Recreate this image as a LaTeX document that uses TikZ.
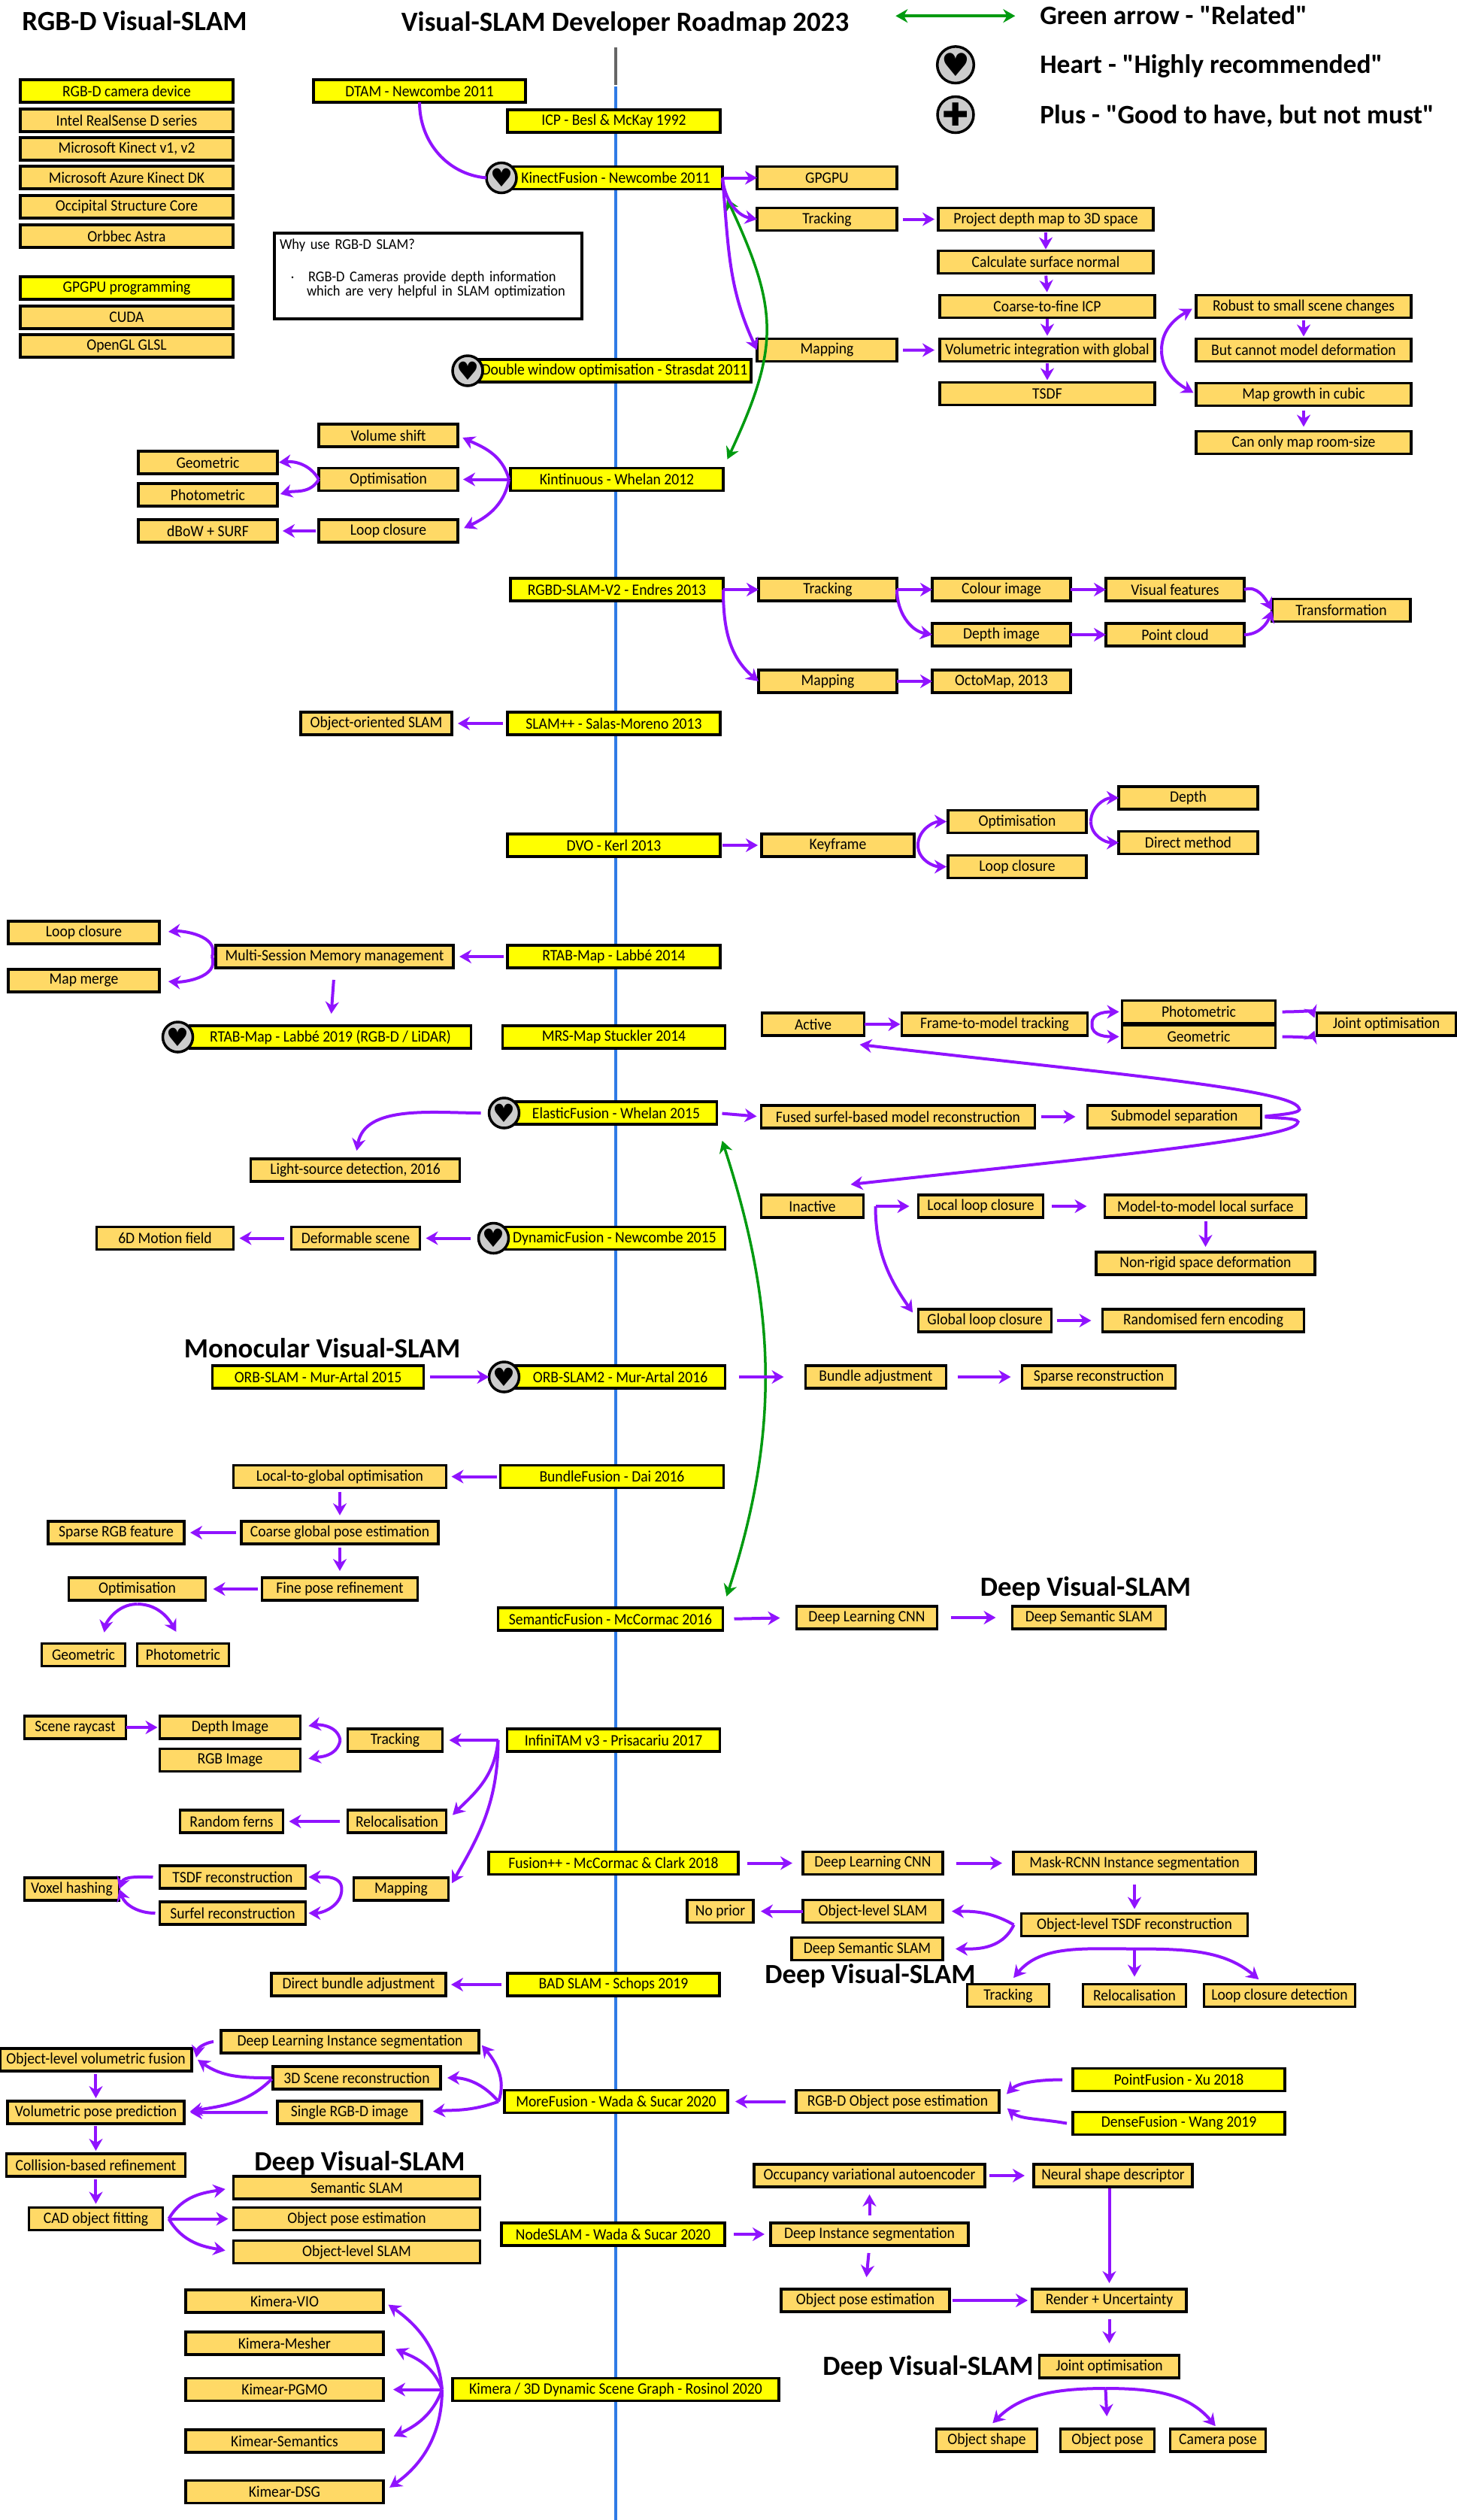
\documentclass[tikz,border=0pt]{standalone}
\usepackage{fontspec}
\setmainfont[FakeStretch=.93, Ligatures=TeXOff]{Carlito}
\newfontfamily\headfont[Ligatures=TeXOff]{Carlito}
\newfontfamily\symbolfont{DejaVu Sans}
\usetikzlibrary{arrows.meta, positioning}
\definecolor{roadyellow}{HTML}{FFFF00}
\definecolor{taskorange}{HTML}{FFD966}
\definecolor{selpurple}{HTML}{9013FE}
\definecolor{relgreen}{HTML}{009A10}
\definecolor{axisblue}{HTML}{2F7BE6}
\tikzset{%
	box/.style={draw, rectangle, line width=.035cm, minimum height=.3cm, inner sep=0mm, outer sep=0mm,%
		font=\fontsize{6}{6.9}\selectfont},
	road/.style={box, fill=roadyellow, minimum width=2.83cm},
	task/.style={box, fill=taskorange, minimum width=1.86cm},
	badge/.style={draw, circle, line width=.035cm, minimum size=.4cm, inner sep=0mm, outer sep=0mm, fill=black!20,%
		font=\symbolfont\fontsize{9.5}{9.5}\selectfont},
	bigbadge/.style={badge, minimum size=.48cm, font=\symbolfont\fontsize{12}{12}\selectfont},
	heading/.style={inner sep=0mm, outer sep=0mm, text height=.3cm, text depth=.08cm,%
		font=\headfont\fontsize{10.5}{11}\selectfont\bfseries},
	legend/.style={heading, font=\headfont\fontsize{10.1}{11}\selectfont\bfseries},
	note/.style={box, fill=white, minimum height=1.14cm, text width=3.95cm, inner xsep=.07cm, align=left,%
		font=\fontsize{5.65}{5.5}\selectfont},
	sel/.style={-{Stealth[length=1.6mm,width=1.8mm]}, line width=.04cm, color=selpurple},
	rel/.style={{Stealth[length=1.6mm,width=1.8mm]}-{Stealth[length=1.6mm,width=1.8mm]},%
		line width=.035cm, color=relgreen},
	gap/.style 2 args={shorten <=#1cm, shorten >=#2cm}
}
\begin{document}
\begin{tikzpicture}
	\useasboundingbox (0,0) rectangle (19.38,-33.51);
	\coordinate (axis-top) at (8.19,-.63);
	\coordinate (axis-mid) at (8.19,-1.13);
	\coordinate (axis-start) at (8.19,-1.15);
	\coordinate (axis-end) at (8.19,-33.51);
	\draw [line width=.04cm, black!60] (axis-top) to (axis-mid);
	\draw [line width=.045cm, axisblue] (axis-start) to (axis-end);

	\node[road] (icp) at (8.165,-1.61) {ICP - Besl \& McKay 1992};
	\node[road, minimum width=2.82cm] (dtam) [above=.1 of icp, xshift=-2.585cm] {DTAM - Newcombe 2011};
	\node[road, minimum width=2.84cm] (kinect) [below=.455 of icp, xshift=.025cm] {KinectFusion - Newcombe 2011};
	\node[road, minimum width=3.63cm] (double) [below=2.265 of kinect, xshift=-.015cm] {Double window optimisation - Strasdat 2011};
	\node[road] (kintinuous) [below=1.145 of double, xshift=.03cm] {Kintinuous - Whelan 2012};
	\node[road] (rgbdslam) [below=1.165 of kintinuous] {RGBD-SLAM-V2 - Endres 2013};
	\node[road] (slampp) [below=1.48 of rgbdslam, xshift=-.04cm] {SLAM++ - Salas-Moreno 2013};
	\node[road] (dvo) [below=1.32 of slampp] {DVO - Kerl 2013};
	\node[road] (rtabmap) [below=1.18 of dvo] {RTAB-Map - Labbé 2014};
	\node[road, minimum width=2.96cm] (mrsmap) [below=.77 of rtabmap] {MRS-Map Stuckler 2014};
	\node[road, minimum width=2.68cm] (elastic) [below=.71 of mrsmap, xshift=.03cm] {ElasticFusion - Whelan 2015};
	\node[road, minimum width=2.94cm] (dynamic) [below=1.365 of elastic, xshift=-.02cm] {DynamicFusion - Newcombe 2015};
	\node[road, minimum width=2.79cm] (orb2) [below=1.545 of dynamic, xshift=.075cm] {ORB-SLAM2 - Mur-Artal 2016};
	\node[road, minimum width=2.97cm] (bundlefusion) [below=1.025 of orb2, xshift=-.11cm] {BundleFusion - Dai 2016};
	\node[road, minimum width=2.99cm] (semanticf) [below=1.595 of bundlefusion, xshift=-.02cm] {SemanticFusion - McCormac 2016};
	\node[road] (infinitam) [below=1.31 of semanticf, xshift=.04cm] {InfiniTAM v3 - Prisacariu 2017};
	\node[road, minimum width=3.32cm] (fusionpp) [below=1.335 of infinitam] {Fusion++ - McCormac \& Clark 2018};
	\node[road, minimum width=2.82cm] (badslam) [below=1.315 of fusionpp] {BAD SLAM - Schops 2019};
	\node[road, minimum width=2.97cm] (morefusion) [below=1.255 of badslam, xshift=.035cm] {MoreFusion - Wada \& Sucar 2020};
	\node[road, minimum width=2.97cm] (nodeslam) [below=1.465 of morefusion, xshift=-.04cm] {NodeSLAM - Wada \& Sucar 2020};
	\node[road, minimum width=4.34cm] (kimera) [below=1.765 of nodeslam, xshift=.035cm] {Kimera / 3D Dynamic Scene Graph - Rosinol 2020};

	\node[road, minimum width=2.83cm] (camera) [left=1.07 of dtam] {RGB-D camera device};
	\node[task, minimum width=2.83cm] (realsense) [below=.09 of camera] {Intel RealSense D series};
	\node[task, minimum width=2.83cm] (mskinect) [below=.08 of realsense] {Microsoft Kinect v1, v2};
	\node[task, minimum width=2.83cm] (azure) [below=.08 of mskinect] {Microsoft Azure Kinect DK};
	\node[task, minimum width=2.83cm] (occipital) [below=.09 of azure] {Occipital Structure Core};
	\node[task, minimum width=2.83cm] (orbbec) [below=.09 of occipital] {Orbbec Astra};
	\node[road, minimum width=2.83cm] (gpgpu-prog) [below=.39 of orbbec] {GPGPU programming};
	\node[task, minimum width=2.83cm] (cuda) [below=.09 of gpgpu-prog] {CUDA};
	\node[task, minimum width=2.83cm] (glsl) [below=.08 of cuda] {OpenGL GLSL};
	\node[note] (why) [below=1.74 of dtam, xshift=.115cm] {Why use RGB-D SLAM?\\[2.3mm]
		\hspace*{.13cm}$\cdot$\hspace*{.17cm}RGB-D Cameras provide depth information\\
		\hspace*{.36cm}which are very helpful in SLAM optimization\\[.3mm]\mbox{}};

	\node[heading] (roadmap) [above=.57 of dtam, xshift=2.735cm] {Visual-SLAM Developer Roadmap 2023};
	\node[heading] (rgbd-title) [above=.58 of camera, xshift=.105cm] {RGB-D Visual-SLAM};

	\node[badge] (kinect-heart) [left=-.1 of kinect] {♥};
	\node[badge] (double-heart) [left=-.06 of double] {♥};
	\node[badge] (elastic-heart) [left=-.05 of elastic] {♥};
	\node[badge] (dynamic-heart) [left=-.06 of dynamic] {♥};
	\node[badge] (orb2-heart) [left=-.05 of orb2] {♥};

	\node[task] (kinect-gpu) [right=.46 of kinect] {GPGPU};
	\node[task] (kinect-track) [below=.25 of kinect-gpu] {Tracking};
	\node[task] (kinect-map) [below=1.44 of kinect-track] {Mapping};
	\node[task, minimum width=2.86cm] (project) [right=.55 of kinect-track] {Project depth map to 3D space};
	\node[task, minimum width=2.86cm] (normal) [below=.27 of project] {Calculate surface normal};
	\node[task, minimum width=2.86cm] (fine-icp) [below=.29 of normal, xshift=.02cm] {Coarse-to-fine ICP};
	\node[task, minimum width=2.86cm] (volume) [below=.28 of fine-icp] {Volumetric integration with global};
	\node[task, minimum width=2.86cm] (tsdf) [below=.28 of volume] {TSDF};
	\node[task, minimum width=2.86cm] (robust) [right=.55 of fine-icp] {Robust to small scene changes};
	\node[task, minimum width=2.86cm] (nodeform) [below=.28 of robust] {But cannot model deformation};
	\node[task, minimum width=2.86cm] (cubic) [below=.29 of nodeform] {Map growth in cubic};
	\node[task, minimum width=2.86cm] (roomsize) [below=.34 of cubic] {Can only map room-size};

	\node[bigbadge] (legend-heart) [above=1.66 of project, xshift=-1.2cm] {♥};
	\node[bigbadge] (legend-plus) [below=.18 of legend-heart] {✚};
	\node[legend] (legend-hearttext) [right=.88 of legend-heart] {Heart - "Highly recommended"};
	\node[legend] (legend-plustext) [below=.29 of legend-hearttext.south west, anchor=north west] {Plus - "Good to have, but not must"};
	\node[legend] (legend-reltext) [above=.27 of legend-hearttext.north west, anchor=south west] {Green arrow - "Related"};
	\coordinate[left=.33 of legend-reltext] (legend-relend);
	\coordinate[left=1.59 of legend-relend] (legend-relstart);

	\node[task, minimum width=1.85cm] (kin-optim) [left=.7 of kintinuous] {Optimisation};
	\node[task, minimum width=1.85cm] (kin-shift) [above=.285 of kin-optim] {Volume shift};
	\node[task, minimum width=1.85cm] (kin-loop) [below=.385 of kin-optim] {Loop closure};
	\node[task, minimum width=1.85cm] (kin-dbow) [left=.55 of kin-loop] {dBoW + SURF};
	\node[task, minimum width=1.85cm] (kin-photo) [above=.18 of kin-dbow] {Photometric};
	\node[task, minimum width=1.85cm] (kin-geo) [above=.13 of kin-photo] {Geometric};

	\node[task, minimum width=1.84cm] (rgbd-track) [right=.47 of rgbdslam] {Tracking};
	\node[task, minimum width=1.84cm] (rgbd-colour) [right=.47 of rgbd-track] {Colour image};
	\node[task, minimum width=1.84cm] (rgbd-visual) [right=.47 of rgbd-colour] {Visual features};
	\node[task, minimum width=1.84cm] (rgbd-depth) [below=.3 of rgbd-colour] {Depth image};
	\node[task, minimum width=1.84cm] (rgbd-cloud) [right=.47 of rgbd-depth] {Point cloud};
	\node[task, minimum width=1.84cm] (rgbd-trans) [right=.37 of rgbd-visual, yshift=-.275cm] {Transformation};
	\node[task, minimum width=1.84cm] (rgbd-map) [below=.92 of rgbd-track] {Mapping};
	\node[task, minimum width=1.84cm] (rgbd-octo) [right=.47 of rgbd-map] {OctoMap, 2013};

	\node[task, minimum width=2.01cm] (slam-object) [left=.74 of slampp] {Object-oriented SLAM};

	\node[task, minimum width=2.03cm] (dvo-key) [right=.55 of dvo] {Keyframe};
	\node[task, minimum width=1.84cm] (dvo-optim) [right=.45 of dvo-key, yshift=.315cm] {Optimisation};
	\node[task, minimum width=1.84cm] (dvo-loop) [below=.3 of dvo-optim] {Loop closure};
	\node[task, minimum width=1.85cm] (dvo-depth) [right=.43 of dvo-optim, yshift=.315cm] {Depth};
	\node[task, minimum width=1.85cm] (dvo-direct) [below=.295 of dvo-depth] {Direct method};

	\node[task, minimum width=3.16cm] (rtab-multi) [left=.72 of rtabmap] {Multi-Session Memory management};
	\node[task, minimum width=2.01cm] (rtab-loop) [left=.75 of rtab-multi, yshift=.32cm] {Loop closure};
	\node[task, minimum width=2.01cm] (rtab-merge) [below=.34 of rtab-loop] {Map merge};
	\node[road, minimum width=3.74cm] (rtab19) [left=.42 of mrsmap] {RTAB-Map - Labbé 2019 (RGB-D / LiDAR)};
	\node[badge] (rtab19-heart) [left=-.04 of rtab19] {♥};

	\node[task, minimum width=3.64cm] (fused) [right=.59 of elastic, yshift=-.05cm] {Fused surfel-based model reconstruction};
	\node[task, minimum width=2.31cm] (submodel) [right=.7 of fused] {Submodel separation};
	\node[task, minimum width=2.78cm] (light) [left=.74 of elastic, yshift=-.76cm] {Light-source detection, 2016};
	\node[task, minimum width=1.36cm] (active) [above=.93 of fused, xshift=-1.13cm] {Active};
	\node[task, minimum width=2.47cm] (frame) [right=.5 of active] {Frame-to-model tracking};
	\node[task, minimum width=2.04cm] (ef-photo) [right=.46 of frame, yshift=.165cm] {Photometric};
	\node[task, minimum width=2.04cm] (ef-geo) [below=.03 of ef-photo] {Geometric};
	\node[task, minimum width=1.85cm] (ef-joint) [right=.55 of ef-photo, yshift=-.165cm] {Joint optimisation};
	\node[task, minimum width=1.36cm] (inactive) [below=.89 of fused, xshift=-1.14cm] {Inactive};
	\node[task, minimum width=1.66cm] (ef-local) [right=.73 of inactive] {Local loop closure};
	\node[task, minimum width=2.68cm] (ef-surface) [right=.82 of ef-local] {Model-to-model local surface};
	\node[task, minimum width=2.91cm] (ef-rigid) [below=.46 of ef-surface] {Non-rigid space deformation};
	\node[task, minimum width=1.77cm] (ef-global) [below=1.22 of ef-local, xshift=.055cm] {Global loop closure};
	\node[task, minimum width=2.68cm] (ef-fern) [right=.68 of ef-global] {Randomised fern encoding};

	\node[task, minimum width=1.71cm] (dyn-scene) [left=1.12 of dynamic] {Deformable scene};
	\node[task, minimum width=1.82cm] (dyn-motion) [left=.77 of dyn-scene] {6D Motion field};

	\node[road, minimum width=2.81cm] (orb1) [left=1.22 of orb2] {ORB-SLAM - Mur-Artal 2015};
	\node[heading] (mono-title) [above=.03 of orb1, xshift=.055cm] {Monocular Visual-SLAM};
	\node[task, minimum width=1.87cm] (orb-bundle) [right=1.07 of orb2] {Bundle adjustment};
	\node[task, minimum width=2.04cm] (orb-sparse) [right=1.01 of orb-bundle] {Sparse reconstruction};

	\node[task, minimum width=2.83cm] (bf-local) [left=.72 of bundlefusion] {Local-to-global optimisation};
	\node[task, minimum width=2.62cm] (bf-coarse) [below=.445 of bf-local] {Coarse global pose estimation};
	\node[task, minimum width=1.81cm] (bf-rgb) [left=.76 of bf-coarse] {Sparse RGB feature};
	\node[task, minimum width=2.07cm] (bf-fine) [below=.45 of bf-coarse] {Fine pose refinement};
	\node[task, minimum width=1.82cm] (bf-optim) [left=.75 of bf-fine] {Optimisation};
	\node[task, minimum width=1.11cm] (bf-geo) [below=.575 of bf-optim, xshift=-.715cm] {Geometric};
	\node[task, minimum width=1.22cm] (bf-photo) [right=.16 of bf-geo] {Photometric};

	\node[task, minimum width=1.87cm] (sf-cnn) [right=.98 of semanticf, yshift=.02cm] {Deep Learning CNN};
	\node[task, minimum width=2.04cm] (sf-deep) [right=1 of sf-cnn] {Deep Semantic SLAM};
	\node[heading] (deep-title) [above=.06 of sf-deep, xshift=-.045cm] {Deep Visual-SLAM};

	\node[task, minimum width=1.26cm] (it-track) [left=.86 of infinitam] {Tracking};
	\node[task, minimum width=1.87cm] (it-depth) [left=.63 of it-track, yshift=.17cm] {Depth Image};
	\node[task, minimum width=1.87cm] (it-rgb) [below=.135 of it-depth] {RGB Image};
	\node[task, minimum width=1.35cm] (it-ray) [left=.45 of it-depth] {Scene raycast};
	\node[task, minimum width=1.31cm] (it-reloc) [below=.78 of it-track, xshift=.025cm] {Relocalisation};
	\node[task, minimum width=1.37cm] (it-ferns) [left=.86 of it-reloc] {Random ferns};
	\node[task, minimum width=1.26cm] (it-map) [below=.6 of it-reloc, xshift=.055cm] {Mapping};
	\node[task, minimum width=1.94cm] (it-tsdf) [left=.64 of it-map, yshift=.16cm] {TSDF reconstruction};
	\node[task, minimum width=1.94cm] (it-surfel) [below=.18 of it-tsdf] {Surfel reconstruction};
	\node[task, minimum width=1.26cm] (it-voxel) [left=.54 of it-tsdf, yshift=-.16cm] {Voxel hashing};

	\node[task] (fp-cnn) [right=.86 of fusionpp] {Deep Learning CNN};
	\node[task, minimum width=3.22cm] (fp-mask) [right=.94 of fp-cnn] {Mask-RCNN Instance segmentation};
	\node[task, minimum width=3.01cm] (fp-tsdf) [below=.52 of fp-mask] {Object-level TSDF reconstruction};
	\node[task] (fp-object) [below=.34 of fp-cnn] {Object-level SLAM};
	\node[task, minimum width=.88cm] (fp-prior) [left=.66 of fp-object] {No prior};
	\node[task, minimum width=2.01cm] (fp-deep) [below=.2 of fp-object, xshift=-.075cm] {Deep Semantic SLAM};
	\node[heading] (deep-title2) [below=.01 of fp-deep, xshift=.04cm] {Deep Visual-SLAM};
	\node[task, minimum width=1.37cm] (fp-reloc) [below=.64 of fp-tsdf] {Relocalisation};
	\node[task, minimum width=1.09cm] (fp-track) [left=.45 of fp-reloc] {Tracking};
	\node[task, minimum width=2.01cm] (fp-loop) [right=.24 of fp-reloc] {Loop closure detection};

	\node[task, minimum width=2.32cm] (bad-direct) [left=.82 of badslam] {Direct bundle adjustment};

	\node[task, minimum width=2.23cm] (mf-scene) [left=.85 of morefusion, yshift=.315cm] {3D Scene reconstruction};
	\node[task, minimum width=3.43cm] (mf-inst) [above=.18 of mf-scene, xshift=-.09cm] {Deep Learning Instance segmentation};
	\node[task, minimum width=1.92cm] (mf-single) [below=.16 of mf-scene, xshift=-.095cm] {Single RGB-D image};
	\node[task, minimum width=2.55cm] (mf-fusion) [left=.39 of mf-inst, yshift=-.24cm] {Object-level volumetric fusion};
	\node[task, minimum width=2.35cm] (mf-pose) [below=.4 of mf-fusion] {Volumetric pose prediction};
	\node[task, minimum width=2.38cm] (mf-coll) [below=.4 of mf-pose] {Collision-based refinement};
	\node[task, minimum width=1.78cm] (mf-cad) [below=.415 of mf-coll] {CAD object fitting};
	\node[task, minimum width=3.28cm] (mf-objest) [right=.94 of mf-cad] {Object pose estimation};
	\node[task, minimum width=3.28cm] (mf-sem) [above=.115 of mf-objest] {Semantic SLAM};
	\node[task, minimum width=3.28cm] (mf-level) [below=.14 of mf-objest] {Object-level SLAM};
	\node[heading] (deep-title3) [above=0 of mf-sem, xshift=.04cm] {Deep Visual-SLAM};
	\node[task, minimum width=2.7cm] (mf-rgbd) [right=.91 of morefusion] {RGB-D Object pose estimation};
	\node[road, minimum width=2.82cm] (pointf) [right=.98 of mf-rgbd, yshift=.29cm] {PointFusion - Xu 2018};
	\node[road, minimum width=2.82cm] (densef) [below=.28 of pointf] {DenseFusion - Wang 2019};

	\node[task, minimum width=2.63cm] (ns-inst) [right=.61 of nodeslam] {Deep Instance segmentation};
	\node[task, minimum width=3.07cm] (ns-occ) [above=.48 of ns-inst] {Occupancy variational autoencoder};
	\node[task, minimum width=2.11cm] (ns-neural) [right=.65 of ns-occ] {Neural shape descriptor};
	\node[task, minimum width=2.24cm] (ns-pose) [below=.58 of ns-inst, xshift=-.055cm] {Object pose estimation};
	\node[task, minimum width=2.05cm] (ns-render) [right=1.1 of ns-pose] {Render + Uncertainty};
	\node[task] (ns-joint) [below=.58 of ns-render] {Joint optimisation};
	\node[heading] (deep-title4) [left=.08 of ns-joint] {Deep Visual-SLAM};
	\node[task, minimum width=1.25cm] (ns-objpose) [below=.68 of ns-joint, xshift=-.025cm] {Object pose};
	\node[task, minimum width=1.34cm] (ns-shape) [left=.31 of ns-objpose] {Object shape};
	\node[task, minimum width=1.27cm] (ns-cam) [right=.21 of ns-objpose] {Camera pose};

	\node[task, minimum width=2.63cm] (ki-pgmo) [left=.92 of kimera] {Kimear-PGMO};
	\node[task, minimum width=2.63cm] (ki-mesher) [above=.315 of ki-pgmo] {Kimera-Mesher};
	\node[task, minimum width=2.63cm] (ki-vio) [above=.26 of ki-mesher] {Kimera-VIO};
	\node[task, minimum width=2.63cm] (ki-sem) [below=.385 of ki-pgmo] {Kimear-Semantics};
	\node[task, minimum width=2.63cm] (ki-dsg) [below=.375 of ki-sem] {Kimear-DSG};

	\draw [rel] (legend-relstart) to (legend-relend);
	\draw [rel, gap={.14}{.13}, out=-65, in=65, looseness=1.22] (kinect.south east) to (kintinuous.north east);
	\draw [rel, gap={.23}{.16}, out=-72, in=72] (elastic.south east) to (semanticf.north east);

	\draw [line width=.04cm, color=selpurple, out=-90, in=175] (dtam.south) to (kinect-heart.west);
	\draw [sel] (kinect.east) to (kinect-gpu.west);
	\draw [sel, out=-85, in=170] (kinect.east) to (kinect-track.west);
	\draw [sel, out=-85, in=115] (kinect.east) to (kinect-map.west);
	\draw [sel, gap={.08}{.05}] (kinect-track.east) to (project.west);
	\draw [sel, gap={.08}{.07}] (kinect-map.east) to (volume.west);
	\draw [sel, gap={.02}{.02}] (project.south) to (normal.north);
	\draw [sel, gap={.03}{.04}] (normal.south) to (fine-icp.north);
	\draw [sel, gap={.01}{.04}] (fine-icp.south) to (volume.north);
	\draw [sel, gap={.02}{.03}] (volume.south) to (tsdf.north);
	\draw [sel, gap={0}{.06}, out=90, in=-150] ([xshift=.09cm]volume.east) to (robust.west);
	\draw [sel, gap={0}{.04}, out=-90, in=150] ([xshift=.09cm]volume.east) to (cubic.west);
	\draw [sel, gap={.03}{.03}] (robust.south) to (nodeform.north);
	\draw [sel, gap={.06}{.06}] (cubic.south) to (roomsize.north);

	\draw [sel, gap={0}{.07}, out=105, in=-25] ([xshift=-.02cm]kintinuous.west) to (kin-shift.east);
	\draw [sel, gap={.02}{.07}] (kintinuous.west) to (kin-optim.east);
	\draw [sel, gap={0}{.09}, out=-100, in=25] ([xshift=-.02cm]kintinuous.west) to (kin-loop.east);
	\draw [sel, gap={0}{.02}, out=120, in=5] (kin-optim.west) to (kin-geo.east);
	\draw [sel, gap={0}{.04}, out=-120, in=15] (kin-optim.west) to (kin-photo.east);
	\draw [sel, gap={.04}{.07}] (kin-loop.west) to (kin-dbow.east);

	\draw [sel] (rgbdslam.east) to (rgbd-track.west);
	\draw [sel, out=-90, in=140] (rgbdslam.east) to (rgbd-map.west);
	\draw [sel] (rgbd-track.east) to (rgbd-colour.west);
	\draw [sel, out=-90, in=170] (rgbd-track.east) to (rgbd-depth.west);
	\draw [sel] (rgbd-colour.east) to (rgbd-visual.west);
	\draw [sel] (rgbd-depth.east) to (rgbd-cloud.west);
	\draw [sel] (rgbd-map.east) to (rgbd-octo.west);
	\draw [sel, out=20, in=120] (rgbd-visual.east) to (rgbd-trans.west);
	\draw [sel, out=0, in=-110] (rgbd-cloud.east) to (rgbd-trans.west);

	\draw [sel, gap={.06}{.08}] (slampp.west) to (slam-object.east);

	\draw [sel, gap={.03}{.05}] (dvo.east) to (dvo-key.west);
	\draw [sel, gap={0}{.02}, out=90, in=180] ([xshift=.05cm]dvo-key.east) to (dvo-optim.west);
	\draw [sel, gap={0}{.02}, out=-90, in=180] ([xshift=.05cm]dvo-key.east) to (dvo-loop.west);
	\draw [sel, out=90, in=180] ([xshift=.06cm]dvo-optim.east) to (dvo-depth.west);
	\draw [sel, out=-90, in=180] ([xshift=.06cm]dvo-optim.east) to (dvo-direct.west);

	\draw [sel, gap={.05}{.08}] (rtabmap.west) to (rtab-multi.east);
	\draw [sel, gap={0}{.12}, out=70, in=5] ([xshift=-.05cm]rtab-multi.west) to (rtab-loop.east);
	\draw [sel, gap={0}{.12}, out=-70, in=-5] ([xshift=-.05cm]rtab-multi.west) to (rtab-merge.east);
	\draw [sel, gap={.16}{.16}] (rtab-multi.south) to (rtab19.north);

	\draw [sel, out=180, in=80, gap={.11}{.11}] (elastic-heart.west) to (light.north);
	\draw [sel, gap={.07}{.06}] (elastic.east) to (fused.west);
	\draw [sel, gap={.08}{.16}] (fused.east) to (submodel.west);
	\draw [sel, gap={.05}{0}] (submodel.east) .. controls +(.27,.03) and +(.07,-.07) .. ++(.5,.12) .. controls +(-.13,.26) and +(3.06,-.36) .. ([shift={(-.06,-.12)}]active.south east);
	\draw [sel, gap={.05}{0}] (submodel.east) .. controls +(.27,-.02) and +(.07,.07) .. ++(.48,-.09) .. controls +(-.11,-.21) and +(3.18,.35) .. ([shift={(-.17,.14)}]inactive.north east);
	\draw [sel, gap={0}{.02}] (active.east) to (frame.west);
	\draw [sel, gap={0}{.04}, out=95, in=180] ([xshift=.06cm]frame.east) to (ef-photo.west);
	\draw [sel, gap={0}{.04}, out=-95, in=180] ([xshift=.06cm]frame.east) to (ef-geo.west);
	\draw [sel, gap={0}{.09}, out=0, in=110] ([xshift=.09cm]ef-photo.east) to (ef-joint.west);
	\draw [sel, gap={0}{.09}, out=0, in=-110] ([xshift=.09cm]ef-geo.east) to (ef-joint.west);
	\draw [sel, gap={.16}{.12}] (inactive.east) to (ef-local.west);
	\draw [sel, gap={0}{.13}, out=-90, in=125] ([xshift=.16cm]inactive.east) to (ef-global.west);
	\draw [sel, gap={.11}{.24}] (ef-local.east) to (ef-surface.west);
	\draw [sel, gap={.05}{.07}] (ef-surface.south) to (ef-rigid.north);
	\draw [sel, gap={.07}{.15}] (ef-global.east) to (ef-fern.west);

	\draw [sel, gap={.11}{.08}] (dynamic-heart.west) to (dyn-scene.east);
	\draw [sel, gap={.1}{.08}] (dyn-scene.west) to (dyn-motion.east);

	\draw [sel, gap={.08}{0}] (orb1.east) to (orb2-heart.west);
	\draw [sel, gap={.18}{.29}] (orb2.east) to (orb-bundle.west);
	\draw [sel, gap={.15}{.15}] (orb-bundle.east) to (orb-sparse.west);

	\draw [sel, gap={.05}{.07}] (bundlefusion.west) to (bf-local.east);
	\draw [sel, gap={.05}{.08}] (bf-local.south) to (bf-coarse.north);
	\draw [sel, gap={.07}{.08}] (bf-coarse.west) to (bf-rgb.east);
	\draw [sel, gap={.05}{.09}] (bf-coarse.south) to (bf-fine.north);
	\draw [sel, gap={.06}{.1}] (bf-fine.west) to (bf-optim.east);
	\draw [sel, gap={0}{.15}, out=180, in=80] ([yshift=-.05cm]bf-optim.south) to ([xshift=.25cm]bf-geo.north);
	\draw [sel, gap={0}{.18}, out=0, in=120] ([yshift=-.05cm]bf-optim.south) to (bf-photo.north);

	\draw [sel, gap={.15}{.22}] (semanticf.east) to (sf-cnn.west);
	\draw [sel, gap={.18}{.22}] (sf-cnn.east) to (sf-deep.west);

	\draw [sel, gap={.12}{.09}] (infinitam.west) to (it-track.east);
	\draw [sel, gap={0}{.12}, out=-95, in=45] ([xshift=-.12cm]infinitam.west) to (it-reloc.east);
	\draw [sel, gap={0}{.09}, out=-90, in=60] ([xshift=-.12cm]infinitam.west) to (it-map.east);
	\draw [sel, gap={0}{.11}, out=100, in=10] ([xshift=-.1cm]it-track.west) to (it-depth.east);
	\draw [sel, gap={0}{.11}, out=-100, in=10] ([xshift=-.1cm]it-track.west) to (it-rgb.east);
	\draw [sel, gap={0}{.03}] (it-ray.east) to (it-depth.west);
	\draw [sel, gap={.11}{.08}] (it-reloc.west) to (it-ferns.east);
	\draw [sel, gap={0}{.04}, out=90, in=0] ([xshift=-.16cm]it-map.west) to (it-tsdf.east);
	\draw [sel, gap={0}{.04}, out=-90, in=0] ([xshift=-.16cm]it-map.west) to (it-surfel.east);
	\draw [sel, out=180, in=70] ([xshift=-.09cm]it-tsdf.west) to (it-voxel.east);
	\draw [sel, out=180, in=-70] ([xshift=-.06cm]it-surfel.west) to (it-voxel.east);

	\draw [sel, gap={.12}{.14}] (fusionpp.east) to (fp-cnn.west);
	\draw [sel, gap={.18}{.15}] (fp-cnn.east) to (fp-mask.west);
	\draw [sel, gap={.13}{.06}] (fp-mask.south) to (fp-tsdf.north);
	\draw [sel, gap={0}{.12}, out=150, in=0] ([xshift=-.1cm]fp-tsdf.west) to (fp-object.east);
	\draw [sel, gap={0}{.17}, out=-115, in=0] ([xshift=-.1cm]fp-tsdf.west) to (fp-deep.east);
	\draw [sel, gap={0}{.1}] (fp-object.west) to (fp-prior.east);
	\draw [sel, gap={0}{.11}, out=180, in=50] ([yshift=-.17cm]fp-tsdf.south) to (fp-track.north);
	\draw [sel, gap={.17}{.1}] (fp-tsdf.south) to (fp-reloc.north);
	\draw [sel, gap={0}{.1}, out=0, in=140] ([yshift=-.17cm]fp-tsdf.south) to ([xshift=-.2cm]fp-loop.north);

	\draw [sel, gap={.08}{.07}] (badslam.west) to (bad-direct.east);

	\draw [sel, gap={0}{.06}, out=70, in=-50] ([xshift=-.08cm]morefusion.west) to (mf-inst.east);
	\draw [sel, gap={0}{.09}, out=130, in=0] ([xshift=-.08cm]morefusion.west) to (mf-scene.east);
	\draw [sel, gap={0}{.15}, out=-160, in=5] ([xshift=-.08cm]morefusion.west) to (mf-single.east);
	\draw [sel, gap={.1}{0}, out=180, in=80] (mf-inst.west) to ([shift={(.06,.03)}]mf-fusion.east);
	\draw [sel, gap={.02}{0}, out=180, in=-35] (mf-scene.west) to ([xshift=.08cm]mf-fusion.east);
	\draw [sel, gap={.02}{.08}, out=-135, in=10] (mf-scene.west) to (mf-pose.east);
	\draw [sel, gap={.13}{.08}] (mf-single.west) to (mf-pose.east);
	\draw [sel, gap={.04}{.04}] (mf-fusion.south) to (mf-pose.north);
	\draw [sel, gap={.03}{.04}] (mf-pose.south) to (mf-coll.north);
	\draw [sel, gap={.04}{.05}] (mf-coll.south) to (mf-cad.north);
	\draw [sel, gap={0}{.11}, out=60, in=-170] ([xshift=.08cm]mf-cad.east) to (mf-sem.west);
	\draw [sel, gap={.08}{.07}] (mf-cad.east) to (mf-objest.west);
	\draw [sel, gap={0}{.11}, out=-60, in=170] ([xshift=.08cm]mf-cad.east) to (mf-level.west);
	\draw [sel, gap={.14}{.1}] (mf-rgbd.west) to (morefusion.east);
	\draw [sel, gap={0}{.14}, out=180, in=45] ([xshift=-.14cm]pointf.west) to (mf-rgbd.east);
	\draw [sel, gap={0}{.14}, out=170, in=-40] ([xshift=-.08cm]densef.west) to (mf-rgbd.east);

	\draw [sel, gap={.12}{.08}] (nodeslam.east) to (ns-inst.west);
	\draw [sel, gap={.1}{.1}] (ns-inst.north) to (ns-occ.south);
	\draw [sel, gap={.1}{.16}] (ns-inst.south) to (ns-pose.north);
	\draw [sel, gap={.06}{.12}] (ns-occ.east) to (ns-neural.west);
	\draw [sel, gap={.02}{.08}] (ns-render.north |- ns-neural.south) to (ns-render.north);
	\draw [sel, gap={.04}{.06}] (ns-pose.east) to (ns-render.west);
	\draw [sel, gap={.1}{.16}] (ns-render.south) to (ns-joint.north);
	\draw [sel, gap={0}{.11}, out=180, in=45] ([shift={(-.05,-.14)}]ns-joint.south) to (ns-shape.north);
	\draw [sel, gap={0}{.17}] ([shift={(-.05,-.14)}]ns-joint.south) to (ns-objpose.north);
	\draw [sel, gap={0}{.05}, out=0, in=130] ([shift={(-.05,-.14)}]ns-joint.south) to (ns-cam.north);

	\draw [sel, gap={0}{.08}, out=95, in=-35] ([xshift=-.14cm]kimera.west) to (ki-vio.east);
	\draw [sel, gap={0}{.18}, out=110, in=-25] ([xshift=-.14cm]kimera.west) to (ki-mesher.east);
	\draw [sel, gap={.14}{.13}] (kimera.west) to (ki-pgmo.east);
	\draw [sel, gap={0}{.15}, out=-110, in=25] ([xshift=-.14cm]kimera.west) to (ki-sem.east);
	\draw [sel, gap={0}{.1}, out=-90, in=35] ([xshift=-.14cm]kimera.west) to (ki-dsg.east);
\end{tikzpicture}
\end{document}
